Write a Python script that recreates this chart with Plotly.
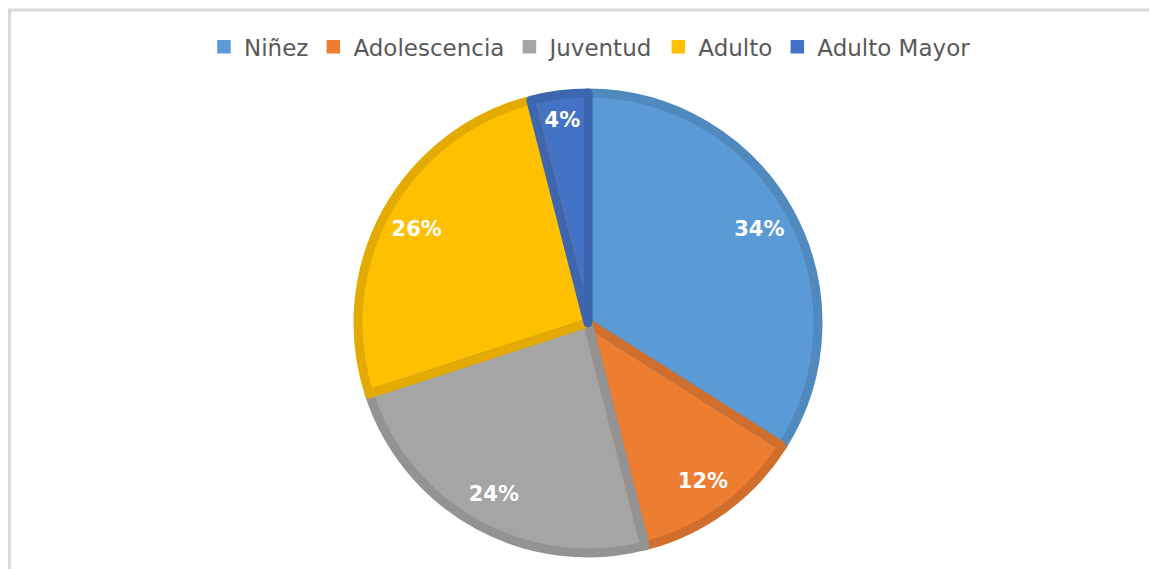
import plotly.graph_objects as go

labels = ["Niñez", "Adolescencia", "Juventud", "Adulto", "Adulto Mayor"]
values = [34, 12, 24, 26, 4]
fill_colors = ["#5B9BD5", "#ED7D31", "#A5A5A5", "#FFC000", "#4472C4"]
edge_colors = ["#4F89BE", "#D26E2B", "#939393", "#E3AB02", "#3C66B0"]

domain = dict(x=[0.2, 0.8026], y=[0.0422, 0.8506])
clear = ["rgba(0,0,0,0)"] * len(values)

fig = go.Figure()
# coloured slices (these also give the solid legend squares)
fig.add_trace(go.Pie(
    labels=labels,
    values=values,
    sort=False,
    direction="clockwise",
    rotation=0,
    marker=dict(colors=fill_colors, line=dict(color=fill_colors, width=1.5)),
    textinfo="none",
    domain=domain,
    hoverinfo="label+percent",
))
# darker slice outlines
fig.add_trace(go.Pie(
    labels=labels,
    values=values,
    sort=False,
    direction="clockwise",
    rotation=0,
    marker=dict(colors=clear, line=dict(color=edge_colors, width=9)),
    textinfo="none",
    domain=domain,
    showlegend=False,
    hoverinfo="skip",
))
# transparent ring that carries the percentage labels near the outer edge
fig.add_trace(go.Pie(
    labels=labels,
    values=values,
    sort=False,
    direction="clockwise",
    rotation=0,
    hole=0.7,
    marker=dict(colors=clear, line=dict(width=0)),
    texttemplate="%{percent:.0%}",
    textposition="inside",
    insidetextorientation="horizontal",
    textfont=dict(family="DejaVu Sans, sans-serif", size=21, color="white", weight="bold"),
    domain=domain,
    showlegend=False,
    hoverinfo="skip",
))

fig.update_layout(
    width=1157, height=569,
    margin=dict(l=0, r=0, t=0, b=0, autoexpand=False),
    paper_bgcolor="white",
    plot_bgcolor="white",
    legend=dict(
        orientation="h",
        x=0.503, xanchor="center",
        y=0.932, yanchor="middle",
        font=dict(family="DejaVu Sans, sans-serif", size=23, color="#595959"),
        itemwidth=30,
        tracegroupgap=0,
    ),
    showlegend=True,
    shapes=[
        dict(type="line", xref="paper", yref="paper", x0=0, x1=1, y0=1-2/569, y1=1-2/569,
             line=dict(color="#D9D9D9", width=3)),
        dict(type="line", xref="paper", yref="paper", x0=1.5/1157, x1=1.5/1157, y0=0, y1=1-2/569,
             line=dict(color="#D9D9D9", width=3)),
    ],
)

fig.write_html("out.html")
